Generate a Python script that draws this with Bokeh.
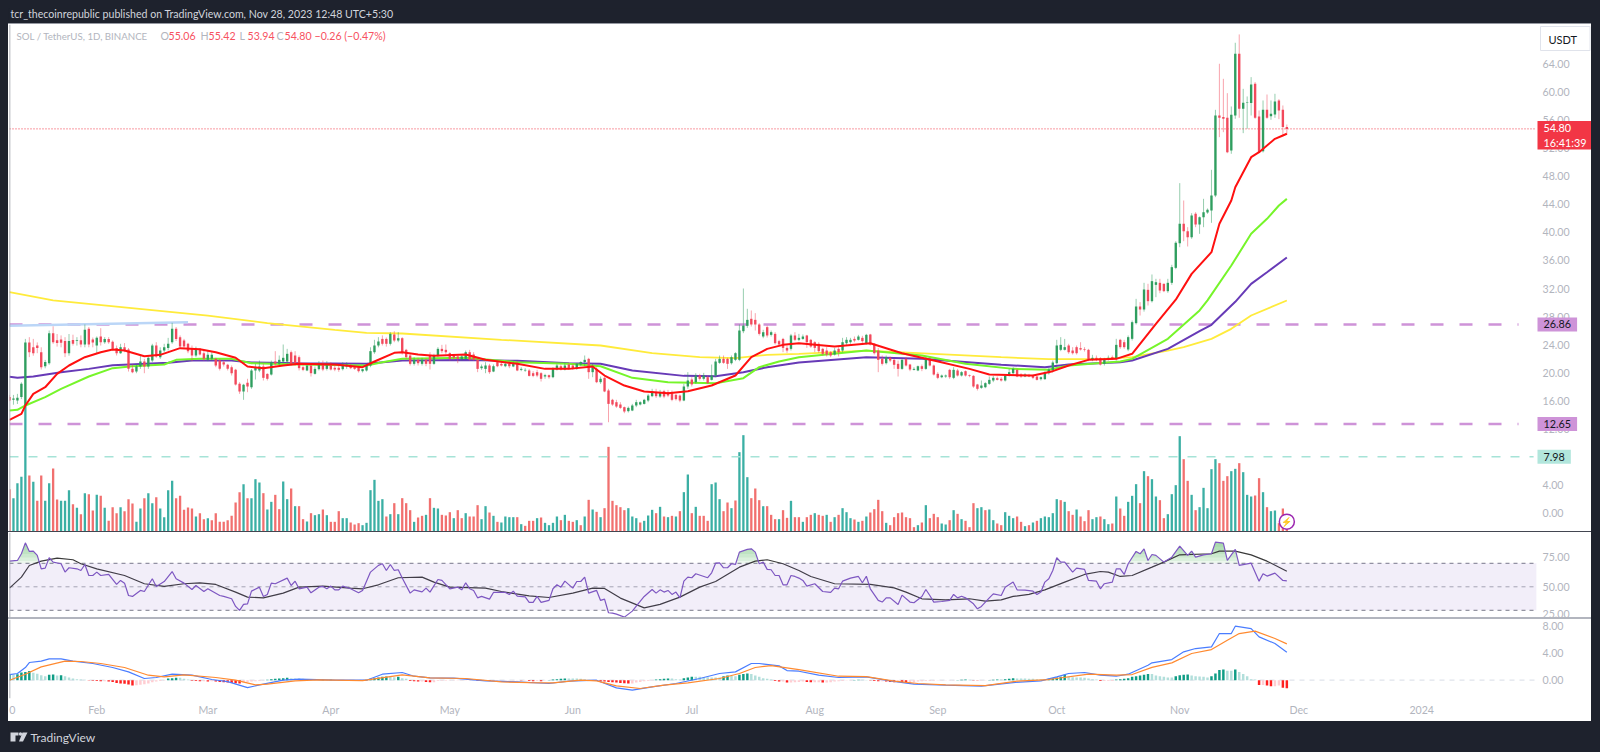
from bokeh.plotting import figure
from bokeh.layouts import column
from bokeh.models import (Range1d, LinearAxis, FixedTicker, NumeralTickFormatter, Span, Label,
                          BoxAnnotation, Div)
from bokeh.embed import file_html
from bokeh.resources import INLINE
import numpy as np

# ---------------------------------------------------------------- price candles (SOL/USDT, daily)
open_ = [
16.5,16.1,16.0,16.5,15.3,24.3,23.6,23.85,22.9,20.9,
21.33,25.6,24.6,24.7,24.5,22.76,24.66,24.5,24.6,24.0,
26.24,24.7,23.85,25.15,24.33,24.8,24.4,23.5,22.76,23.6,
23.3,20.52,20.14,20.86,21.57,20.86,21.71,23.86,22.19,23.14,
23.5,24.33,26.24,25.05,24.57,24.1,23.38,22.43,23.38,22.76,
21.81,21.95,21.95,21.7,21.48,21.1,20.76,20.38,18.38,17.29,
18.52,17.9,20.29,20.29,20.86,19.8,19.71,21.57,21.24,21.57,
21.57,22.9,22.43,22.19,20.76,20.29,21.0,19.81,20.48,21.1,
20.52,21.0,20.67,20.67,20.48,20.86,21.0,20.76,20.76,20.19,
20.29,21.0,22.9,23.86,24.8,24.8,24.1,25.43,24.57,
24.9,23.24,22.43,21.24,21.81,21.24,21.81,22.43,21.24,22.43,
23.38,23.24,22.76,22.43,22.29,21.9,21.95,22.9,22.57,21.81,
20.62,20.52,21.0,20.14,21.48,21.24,20.9,21.24,20.86,21.33,
20.38,20.29,20.29,19.9,20.05,19.9,19.43,19.62,19.33,20.43,
20.9,20.43,21.14,21.0,20.52,21.14,21.5,21.95,20.05,20.52,
18.62,19.24,17.43,16.1,15.76,15.43,15.05,14.48,14.57,15.29,
15.43,15.52,16.0,16.62,17.19,16.57,17.33,17.19,17.05,16.81,
16.71,16.0,18.0,19.0,18.62,19.57,19.1,19.33,18.95,19.57,
21.38,21.95,21.95,21.33,21.81,21.81,25.9,26.67,27.67,27.52,
26.86,25.14,26.48,25.38,25.52,24.48,24.8,23.52,23.38,25.29,
24.67,
24.8,25.29,24.67,24.33,24.1,23.38,23.14,22.9,22.57,23.38,
23.14,24.19,24.33,24.8,24.67,24.95,24.19,25.43,24.1,23.14,
21.95,21.33,22.1,21.81,21.24,20.52,21.95,21.14,20.38,20.29,
20.9,20.52,21.95,21.0,19.81,19.33,19.43,20.38,19.24,20.29,
19.57,20.19,19.62,19.52,18.29,17.81,17.9,18.38,18.86,19.19,
19.1,18.86,19.57,19.9,20.38,19.71,19.43,19.62,19.57,19.43,
19.05,19.05,19.9,20.29,21.33,23.24,23.24,23.86,23.14,23.62,
23.48,23.33,23.24,21.81,22.1,22.05,21.24,21.81,22.19,21.95,
24.67,24.33,23.29,24.81,27.05,29.43,29.0,31.81,30.19,32.52,
32.81,32.67,31.62,32.81,34.95,38.48,41.24,40.19,39.33,42.67,
41.14,42.19,42.86,43.14,45.29,56.71,56.48,56.38,51.71,56.71,
65.52,57.67,58.48,58.48,61.24,56.57,51.62,57.52,56.62,56.86,
58.86,57.52,55.06]
high_ = [
16.8,16.8,16.95,18.6,24.8,25.05,24.8,24.3,23.6,21.8,
26.0,26.6,25.5,25.3,25.05,25.5,25.4,25.05,25.3,26.86,
26.5,25.0,25.15,26.33,25.05,25.05,24.57,23.85,24.1,24.2,
23.5,21.14,21.24,22.43,21.95,22.43,24.1,24.33,23.6,24.1,
24.95,27.1,26.5,25.3,24.8,24.24,23.86,23.7,23.48,23.14,
23.14,22.9,22.1,21.95,21.71,21.24,21.0,20.52,18.62,18.38,
19.1,20.52,21.24,21.71,21.24,19.9,21.71,23.05,22.43,24.0,
23.38,23.14,23.05,22.43,21.0,21.33,21.24,20.86,21.62,21.71,
21.62,21.48,21.0,21.24,21.48,21.48,21.24,21.0,20.9,20.52,
21.24,23.6,24.67,25.05,25.3,25.0,25.76,25.9,25.76,
25.05,23.38,22.67,22.19,22.1,22.1,22.0,22.9,22.67,23.62,
23.95,24.0,22.9,22.67,22.43,22.57,23.14,23.24,22.9,21.95,
21.14,21.48,21.24,21.14,21.71,21.57,21.57,21.62,21.57,21.62,
20.76,20.62,20.52,20.19,20.38,20.05,19.81,19.71,20.76,21.24,
21.14,21.33,21.43,21.24,21.33,21.6,22.43,22.1,21.24,20.76,
19.43,19.33,17.67,16.24,16.1,15.76,15.14,15.14,15.52,16.1,
15.9,16.24,16.95,17.67,17.67,17.52,17.52,17.52,17.43,16.95,
16.86,18.38,20.05,19.33,19.9,19.81,19.95,19.57,21.14,21.95,
22.43,22.43,22.1,22.43,22.9,26.86,32.0,29.1,28.86,28.48,
27.05,26.1,26.7,26.0,25.76,24.67,24.95,23.86,25.52,25.76,
25.52,
25.43,25.38,24.8,24.48,24.33,23.52,23.62,23.05,23.52,23.62,
24.95,25.05,24.95,25.14,25.38,25.24,25.52,25.52,24.19,23.52,
22.43,22.43,22.29,21.95,21.71,21.95,22.19,21.24,20.76,21.0,
21.14,22.19,22.1,21.14,20.05,19.71,19.71,20.52,20.76,20.52,
20.19,20.29,19.71,19.62,18.38,18.86,18.62,19.43,19.52,19.43,
19.33,19.71,20.52,20.76,20.52,19.9,19.9,19.81,19.71,19.57,
19.43,20.19,20.67,21.71,24.67,25.05,24.8,24.1,23.62,23.86,
24.33,23.62,23.38,22.52,22.43,22.19,22.1,22.43,22.43,24.81,
24.81,24.67,25.29,27.43,30.52,30.05,32.81,32.67,34.0,33.38,
33.38,32.7,33.38,35.38,38.76,47.05,44.57,40.76,42.76,42.9,
42.29,44.81,43.43,48.95,57.52,64.1,61.95,59.9,58.0,67.1,
68.29,60.52,59.43,62.19,61.48,57.43,58.86,59.71,58.86,59.81,
59.05,58.14,55.42]
low_ = [
15.9,15.4,15.5,16.2,15.2,22.2,22.4,22.76,20.43,20.6,
21.1,24.1,23.7,23.6,22.2,22.4,23.85,23.85,23.6,23.6,
23.6,23.6,22.67,23.85,24.1,24.1,23.15,22.43,22.67,22.9,
20.14,19.9,19.9,20.52,19.9,20.52,21.48,22.1,21.95,22.9,
23.15,24.1,24.5,23.5,23.5,22.76,21.62,22.2,22.43,21.71,
21.62,21.71,20.76,20.29,20.86,20.29,19.57,18.14,16.95,16.1,
17.19,17.67,19.0,20.05,18.86,18.86,19.57,21.0,21.0,21.33,
21.24,21.0,21.0,20.29,20.19,20.19,19.43,19.71,20.29,20.19,
20.29,20.29,20.19,20.1,20.29,20.52,20.48,20.38,20.0,20.0,
20.14,20.76,22.67,23.6,23.86,23.7,23.86,24.33,24.33,
22.57,21.95,21.0,21.0,21.0,21.0,20.9,20.43,21.1,22.19,
22.76,22.57,21.71,21.81,21.33,21.71,21.81,21.71,21.71,20.05,
20.38,19.9,19.81,20.05,20.76,20.86,20.76,20.62,20.76,20.19,
20.19,20.1,19.43,19.33,19.33,18.71,19.1,19.1,19.19,20.29,
20.29,20.29,20.38,20.38,20.38,20.9,20.9,19.1,19.33,18.48,
18.38,17.19,12.9,15.24,14.95,14.81,14.19,14.29,14.48,15.05,
15.29,15.43,15.76,16.48,16.38,16.38,16.33,16.48,15.9,16.0,
15.76,15.9,17.67,18.0,18.38,18.86,18.86,18.38,18.86,19.33,
21.24,21.24,20.52,21.14,21.62,21.62,25.62,26.38,26.57,26.0,
25.29,24.9,25.0,25.14,24.0,23.86,22.9,22.81,23.14,24.48,
24.48,
24.67,23.52,23.52,22.9,22.81,22.43,22.29,22.19,22.43,22.29,
22.9,23.95,24.1,24.33,24.57,24.24,24.0,23.86,22.57,20.05,
21.0,21.14,21.48,20.52,19.43,20.38,20.86,20.19,20.29,20.19,
20.19,20.38,20.86,19.57,19.05,19.19,19.24,19.1,19.05,19.43,
19.43,19.43,19.33,17.81,17.43,17.67,17.76,18.24,18.62,18.86,
18.71,18.71,19.43,19.57,19.33,19.24,19.33,19.33,19.05,18.86,
18.86,18.95,19.71,20.05,21.14,23.05,23.14,22.67,22.57,22.57,
23.14,23.0,21.62,21.62,21.62,21.0,21.0,21.71,21.81,21.71,
23.38,23.38,23.05,24.57,26.86,28.14,28.7,29.57,30.0,30.76,
31.33,31.48,31.38,32.52,34.76,37.9,38.76,38.0,39.1,40.76,
39.81,40.76,42.67,41.38,45.05,53.62,54.33,51.33,51.24,56.24,
56.38,54.19,54.81,56.71,56.24,51.33,51.43,56.24,56.1,56.38,
56.19,53.86,53.94]
close_ = [
16.0,16.3,16.4,18.4,24.3,22.9,22.76,23.5,20.76,21.5,
25.62,24.33,24.2,24.25,22.76,24.5,24.1,24.6,24.0,26.1,
24.0,24.3,24.95,24.33,24.8,24.33,23.4,22.76,23.6,23.14,
20.52,20.05,20.86,21.57,20.86,22.1,23.86,22.29,23.14,23.6,
24.1,26.24,24.8,23.7,23.7,23.05,22.43,23.38,22.57,21.95,
22.52,22.52,21.0,20.52,21.14,20.52,19.9,18.29,17.29,18.24,
18.0,20.29,20.76,20.86,19.24,19.1,21.48,21.24,21.81,22.1,
22.67,21.24,21.24,20.62,20.38,21.0,19.9,20.52,21.14,20.43,
21.14,20.43,20.43,20.38,21.14,21.14,20.62,20.52,20.19,20.48,
21.0,23.05,23.86,24.43,24.1,24.1,25.52,24.57,24.9,
22.9,22.19,21.24,21.81,21.33,21.81,21.24,21.24,22.43,23.38,
23.05,22.9,21.95,22.1,21.95,22.29,22.9,21.81,21.81,20.52,
20.86,21.0,20.05,20.9,20.9,21.0,21.24,20.9,21.24,20.29,
20.52,20.38,19.52,19.52,19.57,19.1,19.62,19.33,20.52,21.0,
20.43,21.0,20.52,20.52,21.24,21.5,21.81,20.05,20.76,18.62,
19.1,17.29,15.52,15.43,15.14,14.95,14.43,14.95,15.29,15.76,
15.76,16.1,16.71,17.29,16.62,17.19,16.57,16.71,16.1,16.19,
16.0,18.0,18.86,18.3,19.57,19.1,19.57,18.48,19.57,21.57,
21.95,21.38,21.24,22.19,22.76,26.0,26.7,27.52,26.86,26.86,
25.52,25.76,25.29,25.76,24.19,24.0,23.52,23.14,25.29,24.67,
24.95,
25.14,24.33,23.71,23.52,23.05,22.67,22.57,22.43,23.14,22.9,
24.33,24.67,24.67,24.57,25.14,24.48,25.38,24.0,22.76,21.81,
21.24,22.19,21.71,21.1,20.52,21.81,21.0,20.43,20.52,20.9,
20.52,22.1,21.0,19.71,19.24,19.57,19.57,19.33,20.38,19.57,
20.05,19.57,19.52,18.0,17.67,18.14,18.48,18.95,19.24,18.95,
18.86,19.57,20.05,20.52,19.43,19.43,19.71,19.43,19.24,18.95,
19.33,20.0,20.43,21.43,23.86,23.95,23.62,22.9,22.76,22.76,
23.29,23.24,21.81,22.1,21.81,21.14,21.81,22.1,21.9,23.95,
23.62,23.62,25.05,27.19,29.43,29.0,31.86,30.19,33.05,32.9,
31.71,31.62,32.81,35.05,38.52,41.24,40.19,39.33,42.43,41.14,
42.19,42.9,43.24,45.29,56.71,56.38,56.24,51.48,56.81,65.52,
57.67,58.52,58.57,61.14,56.38,51.48,57.52,56.38,56.95,58.71,
57.43,55.06,54.80]

# ---------------------------------------------------------------- volume (arbitrary overlay units)
volume = [
127,100,145,164,382,168,149,92,168,92,145,189,96,92,92,124,82,71,52,115,
112,63,110,107,71,32,73,55,73,61,97,84,29,69,100,115,85,103,69,43,
124,152,100,107,65,72,69,45,55,37,40,34,55,29,29,34,47,87,118,142,
100,100,157,147,115,66,89,110,67,150,97,129,76,76,37,30,55,49,52,66,
49,29,29,61,40,40,27,21,25,19,26,124,155,92,97,45,52,85,52,
100,85,64,29,42,47,50,100,71,69,50,48,58,40,64,40,55,45,45,79,
37,76,57,47,29,27,45,43,43,43,22,17,32,32,40,42,26,19,26,45,
34,50,32,29,34,19,45,95,66,59,43,70,254,92,79,73,64,70,45,40,
27,32,48,65,55,74,45,43,47,45,61,118,171,55,74,47,47,32,142,147,
97,61,87,70,93,238,289,163,100,129,94,76,76,50,37,37,64,41,92,43,43,
29,43,50,55,50,47,50,29,43,50,70,58,40,36,29,32,45,57,67,95,
61,26,19,43,55,57,43,40,13,19,27,79,40,53,43,24,21,34,64,53,
37,32,13,85,70,73,64,66,34,24,19,58,47,40,45,29,16,19,27,32,
40,45,43,55,97,94,89,61,50,66,45,31,64,37,43,45,37,22,24,105,
69,47,89,107,142,85,181,166,157,105,94,40,52,112,139,286,217,152,110,64,
73,131,70,187,217,205,152,166,181,188,205,178,110,105,108,160,118,73,61,63,
25,69,15]
volume_dir = "".join([
    "RTTTTRTRRT", "TRRTTTRTRT", "RRTRTRRRTR", "RRTTRTTRTT", "TTRRRRRTRR",
    "TRRRRRRRRT", "RTTTRTTRRT", "TRTRRTRTTR", "TRRRTTRRRT", "TTTTTRTRT",
    "RRRTRRTRTT", "RRRTRRTRRR", "TTRTRTTTTR", "TRRRTRTTTT", "RTRRTRTRTR",
    "TRRRRRRTTT", "RTTTRTRTRT", "RTTRTRRRTT", "TRRTRTTTRR", "RTRRRTRRTR", "R",
    "TRRTRRTRTR", "TTTRTRTRRR", "RTRRRRRRRT", "RTRRRTTRTR", "TRRRTTRTTR",
    "RTTTRRTRTR", "TTTTTRTRRT", "RRRTTRTTRT", "RRTTTRTRTT", "RRTTTTRRTR",
    "TTTTTRRRTT", "RTTTRRTRTT", "RRR"])

# ---------------------------------------------------------------- moving averages (vertices)
ma20_i = [0,3,4,6,9,12,15,19,23,26,29,34,38,43,48,52,57,60,64,69,73,82,89,92,97,99,103,107,115,120,128,135,141,147,150,155,160,166,171,177,183,187,191,195,199,208,217,225,233,242,247,258,263,267,272,279,283,289,294,298,303,305,308,309,313,315,319,321,322]
ma20_v = [13.24,14.1,15.29,16.95,17.9,19.8,21.0,22.19,22.9,23.29,23.14,22.33,22.52,23.48,23.33,22.9,22.1,20.86,20.62,21.0,21.24,21.14,20.76,21.57,22.81,22.9,22.57,22.38,22.57,21.81,21.24,20.52,20.52,20.86,19.57,18.14,17.29,17.05,17.33,18.14,19.57,22.19,23.38,23.95,24.19,23.71,24.19,22.76,21.71,20.52,19.71,19.57,20.19,21.0,21.81,21.95,22.67,26.95,30.4,34.09,37.19,41.24,44.57,46.47,50.76,51.47,53.38,53.86,54.1]
ma50_i = [0,2,4,9,13,20,26,31,39,42,48,56,61,73,90,94,99,115,128,141,149,157,166,178,185,189,194,199,216,230,241,253,262,267,280,283,292,300,302,308,313,317,320,322]
ma50_v = [14.57,14.67,15.29,16.48,17.67,19.43,20.62,20.9,21.14,21.81,21.95,21.95,21.33,21.14,21.0,21.48,21.95,22.1,21.48,21.24,20.9,19.24,18.62,18.48,19.19,20.76,21.57,22.19,23.14,22.43,21.24,20.52,20.38,21.0,21.57,21.95,24.81,28.86,30.3,35.28,39.81,41.95,43.85,44.8]
ma100_i = [0,2,6,13,20,26,40,46,56,61,73,90,99,115,128,141,149,157,170,178,185,191,199,216,230,250,261,267,280,283,292,300,303,309,313,317,322]
ma100_v = [19.38,19.24,19.43,20.05,20.52,21.05,21.38,21.71,21.71,21.43,21.33,21.24,21.71,21.8,21.67,21.33,21.24,20.29,19.52,19.48,20.05,20.76,21.43,22.19,21.95,21.1,20.76,21.14,21.48,21.71,23.38,25.9,26.81,30.1,32.66,34.33,36.43]
ma200_i = [0,11,50,65,82,90,99,124,149,162,174,183,191,199,216,233,250,262,275,283,292,296,303,308,313,322]
ma200_v = [31.47,30.29,28.14,27.05,26.1,25.67,25.57,24.67,23.86,22.76,22.19,22.05,22.52,22.67,23.14,22.67,22.19,21.9,21.9,22.19,23.14,23.62,24.81,26.24,28.14,30.29]

trend_i = [0, 45]
trend_v = [26.67, 27.19]
level_upper = 26.86
level_lower = 12.65
level_volume = 7.98
price_ticks = list(range(0, 65, 4))

# ---------------------------------------------------------------- RSI
rsi_i = [0,2,3,4,5,6,7,8,9,10,11,13,14,15,17,18,19,20,21,22,23,25,27,28,29,30,31,33,34,36,37,39,41,42,44,46,47,49,50,53,54,56,57,58,59,60,61,63,64,65,66,67,70,71,72,73,75,76,78,79,80,81,82,83,84,86,88,89,91,93,94,95,96,97,98,
99,101,102,104,105,106,108,109,111,113,114,115,116,117,118,119,121,122,125,126,127,128,130,131,132,133,134,136,137,138,139,140,142,143,144,145,146,148,149,150,151,152,153,155,157,158,160,162,163,164,165,166,167,168,169,170,171,172,173,176,177,178,179,180,181,182,183,184,186,187,188,189,190,191,192,193,194,195,196,197,198,199,
200,201,203,205,207,208,209,210,212,214,215,216,217,219,220,221,222,224,225,227,228,230,231,232,233,235,237,238,239,240,241,243,244,245,247,248,250,251,253,254,256,258,259,260,261,262,263,264,265,266,267,268,269,271,272,274,275,276,278,279,280,281,282,284,285,286,287,288,289,291,
293,295,297,298,299,301,303,304,306,307,309,310,313,315,316,317,319,321,322]
rsi_v = [71.8,72.4,78.1,87.4,80.1,80.4,76.7,65.3,65.9,74.7,71.0,69.6,62.5,66.2,65.3,63.9,69.0,59.6,59.6,62.5,59.6,60.5,52.0,55.4,53.1,42.6,41.8,46.9,46.0,56.8,50.3,54.5,63.0,56.8,53.1,47.7,51.1,46.0,48.3,42.6,41.8,39.8,33.3,29.9,35.0,35.5,46.3,49.7,41.8,43.5,53.1,52.6,57.4,51.1,54.8,48.3,49.7,44.9,49.7,50.3,48.3,50.6,47.4,47.4,50.6,48.3,44.9,46.9,62.5,68.2,69.6,63.9,69.0,63.9,64.5,
57.5,44.6,47.4,45.7,48.9,45.5,56.2,55.4,48.3,49.7,47.4,53.4,48.3,46.9,40.6,41.8,39.5,45.2,45.2,43.5,46.3,42.0,41.5,36.7,36.7,41.8,36.7,38.4,48.3,51.7,49.7,54.8,48.9,54.5,54.5,58.2,44.6,46.9,38.4,39.5,27.9,27.6,26.7,24.2,29.3,33.5,41.8,47.7,44.6,47.4,45.5,46.9,43.5,45.5,40.6,54.8,58.2,57.7,61.1,57.7,61.9,70.1,70.4,66.2,66.2,69.6,69.0,79.5,81.8,82.3,79.5,69.6,71.0,64.8,64.5,59.6,59.6,51.7,51.7,59.6,58.8,57.4,
55.4,50.6,52.6,46.0,45.2,48.9,48.3,54.8,57.4,58.8,53.4,59.0,48.3,38.4,37.0,40.6,40.6,35.0,42.9,37.0,36.4,41.8,47.7,42.6,37.0,37.5,38.4,43.5,40.6,42.0,40.6,35.5,31.3,33.3,40.6,44.0,42.6,49.7,54.0,47.4,47.2,46.3,43.5,45.5,54.0,56.8,63.9,74.7,71.0,71.0,66.7,62.5,65.9,64.8,55.4,54.8,48.3,52.6,54.0,65.3,65.3,60.5,69.6,80.1,78.1,82.3,72.4,77.5,76.7,71.0,
75.2,84.6,76.7,80.4,75.2,77.2,78.1,88.0,87.2,72.4,81.8,68.2,70.1,54.8,61.1,59.1,61.6,55.4,55.1]
rsi_ma_i = [0,3,5,8,12,16,18,22,29,34,39,44,48,52,57,60,64,69,73,79,86,89,93,98,104,107,111,120,124,131,136,142,147,150,154,160,164,169,174,178,184,188,191,195,199,202,208,217,223,226,230,236,242,246,250,253,257,261,266,271,275,277,280,283,288,291,295,303,305,309,313,317,322]
rsi_ma_v = [48.9,58.2,68.1,71.8,74.4,73.0,69.6,65.3,59.6,52.6,50.3,52.6,53.4,52.0,45.5,41.2,40.6,44.6,49.7,50.6,48.9,48.3,51.7,57.7,58.2,54.0,49.7,48.9,46.0,42.3,40.9,44.6,48.9,48.6,40.4,32.1,35.0,41.2,49.7,54.5,66.7,71.8,73.0,69.6,63.9,58.8,52.6,52.0,49.1,45.5,39.8,38.9,39.8,37.8,38.9,41.8,43.5,47.4,54.0,60.5,63.0,62.5,58.8,59.6,66.7,71.0,77.2,78.1,80.4,80.4,77.2,71.8,63.3]
rsi_ticks = [25, 50, 75]

# ---------------------------------------------------------------- MACD
macd_i = [0,2,4,5,8,10,13,16,21,26,30,34,37,41,46,51,55,60,64,69,73,82,90,94,99,102,106,112,120,128,136,141,148,153,157,162,168,174,179,183,187,189,194,196,199,204,209,216,222,228,236,245,253,260,264,267,271,275,279,282,287,288,293,296,299,303,305,308,309,313,315,319,322]
macd_v = [0.84,0.99,1.88,2.62,2.82,3.16,3.16,2.82,2.47,1.88,1.23,0.25,0.4,0.89,0.74,0.1,-0.2,-1.09,-0.59,0.0,0.15,0.0,0.0,0.89,1.14,0.59,0.35,0.3,-0.1,-0.25,-0.49,-0.15,0.0,-1.14,-1.48,-0.99,-0.49,0.25,0.99,1.23,2.47,2.47,2.12,1.43,1.33,0.74,0.4,0.49,-0.1,-0.59,-0.74,-0.89,-0.35,-0.1,0.49,0.99,1.14,0.74,0.59,0.89,2.22,2.57,3.06,4.2,4.69,4.94,6.91,6.91,8.0,7.65,6.42,5.43,4.15]
signal_i = [0,4,8,14,18,23,29,35,39,44,52,57,62,65,72,78,89,99,106,115,124,131,137,144,148,153,159,165,171,179,184,188,192,199,209,216,223,229,236,246,254,262,272,279,283,288,293,298,303,307,310,314,319,322]
signal_v = [0.0,0.89,1.98,2.82,2.77,2.47,1.88,0.74,0.49,0.79,0.4,0.0,-0.69,-0.59,-0.1,0.05,-0.05,0.79,0.35,0.25,-0.25,-0.35,-0.4,0.0,-0.1,-0.84,-1.23,-0.74,-0.4,0.25,0.99,1.88,2.17,1.58,0.59,0.54,-0.15,-0.49,-0.69,-0.79,-0.15,0.1,0.89,0.74,0.84,1.9,2.57,3.95,4.54,5.93,6.91,7.26,6.17,5.38]
histogram = [
.89,.84,.89,1.14,1.2,1.38,1.09,.94,.74,.59,
.79,.84,.69,.74,.6,.4,.25,.15,.1,.05,
-.05,-.08,-.12,-.14,-.14,-.18,-.25,-.4,-.49,-.54,
-.64,-.79,-.74,-.69,-.59,-.49,-.3,-.2,-.1,-.05,
.25,.3,.35,.35,.2,.1,-.08,-.12,-.16,-.14,
-.18,-.16,-.2,-.25,-.3,-.35,-.4,-.45,-.5,-.35,
-.25,-.2,-.15,-.1,-.05,.05,.15,.2,.25,.3,
.35,.3,.25,.25,.2,.1,.05,.05,.03,.08,
.03,.05,.03,-.03,-.03,-.05,-.05,-.05,-.08,-.05,
.08,.2,.3,.4,.5,.55,.5,.45,.5,.3,
.2,-.1,-.15,-.2,-.2,-.25,-.3,-.3,-.1,-.08,
-.08,-.06,-.05,-.05,-.05,-.05,-.05,-.05,-.1,-.12,
-.1,-.12,-.1,-.08,-.06,-.05,-.03,-.03,-.03,-.05,
-.05,-.1,-.15,-.1,-.15,-.05,.03,.1,.15,.2,
.25,.25,.25,.25,.2,.15,.05,-.05,-.1,-.15,
-.2,-.25,-.3,-.35,-.4,-.45,-.5,-.5,-.35,-.25,
-.15,-.1,-.05,.1,.15,.2,.25,.25,.15,.1,
.3,.4,.5,.5,.5,.45,.45,.4,.4,.4,
.6,.7,.65,.6,.8,.9,1.0,.9,.7,.5,
.3,.2,.1,-.1,-.2,-.2,-.35,-.35,-.3,-.25,
-.2,-.25,-.3,-.3,-.3,-.35,-.35,-.3,-.2,-.15,
-.1,-.05,-.03,.03,.05,.05,.03,-.03,-.1,-.15,
-.15,-.2,-.25,-.3,-.3,-.35,-.4,-.4,-.3,-.2,
-.15,-.12,-.1,-.08,-.06,-.05,-.05,-.05,-.03,.03,
.05,.1,.05,-.03,-.05,-.05,-.03,.03,.05,.1,
.1,.15,.2,.3,.25,.25,.25,.2,.2,.15,
.15,.15,.2,.3,.4,.5,.8,.5,.45,.4,
.4,.35,.25,.15,.1,-.1,-.1,-.1,-.1,.1,
.15,.2,.3,.5,.6,.7,.8,.9,.9,.7,
.6,.5,.4,.4,.6,.75,.8,.85,.7,.6,
.55,.5,.4,.6,1.0,1.5,1.6,1.4,1.4,1.6,
1.2,.9,.6,.15,.1,-.7,-.7,-.8,-.9,-.9,
-.8,-1.1,-1.2]
macd_ticks = [0, 4, 8]

# ---------------------------------------------------------------- time axis and texts
month_index = [0.7, 22, 50, 81, 111, 142, 172, 203, 234, 264, 295, 325, 356]
month_label = ["0", "Feb", "Mar", "Apr", "May", "Jun", "Jul", "Aug", "Sep", "Oct", "Nov", "Dec", "2024"]
header_text = "tcr_thecoinrepublic published on TradingView.com, Nov 28, 2023 12:48 UTC+5:30"
symbol_text = "SOL / TetherUS, 1D, BINANCE"
ohlc_text = [("O", "55.06"), ("H", "55.42"), ("L", "53.94"), ("C", "54.80")]
change_text = "\u22120.26 (\u22120.47%)"

DARK = "#1e222d"
GREY = "#b2b5be"
FONT = "Lato"
FS = "10.6px"
W = 1583
XMAX = 398.8     # right edge of the frame, which reaches under the price scale
XPANE = 384.9    # where the price scale starts
x_shared = Range1d(0, XMAX)
n = len(close_)
idx = np.arange(n)


def base(height, y0, y1, bottom=0):
    f = figure(width=W, height=height, x_range=x_shared, y_range=Range1d(y0, y1), toolbar_location=None,
               output_backend="svg", min_border_left=1, min_border_right=0, min_border_top=0,
               min_border_bottom=bottom, border_fill_color="white", background_fill_color="white",
               outline_line_color=None, x_axis_location=None, y_axis_location=None,
               styles={"background-color": "white"})
    f.grid.visible = False
    f.add_layout(Span(location=0, dimension="height", line_color="#9598a1", line_width=1.5))
    return f


def right_axis(f, ticks):
    ax = LinearAxis(ticker=FixedTicker(ticks=ticks), formatter=NumeralTickFormatter(format="0.00"),
                    major_tick_line_color=None, minor_tick_line_color=None, axis_line_color=None,
                    major_tick_in=0, major_tick_out=0, minor_tick_in=0, minor_tick_out=0,
                    major_label_text_color=GREY, major_label_text_font=FONT,
                    major_label_text_font_size=FS, major_label_standoff=-49)
    f.add_layout(ax, "right")
    return ax


def text_at(f, x, y, text, color=GREY, size=FS):
    f.add_layout(Label(x=x, y=y, x_units="screen", y_units="data", text=text, text_font=FONT, text_font_size=size,
                       text_color=color, text_baseline="middle", level="overlay"))


def tag(f, text, y, fill, color="#131722", padding=(6, 3)):
    f.add_layout(Label(x=1528, y=y, x_units="screen", y_units="data", text=text, text_font=FONT,
                       text_font_size="10.8px", text_color=color, text_baseline="middle", text_align="left",
                       background_fill_color=fill, padding=padding, level="overlay"))


def hline(f, y, xend, **kw):
    f.line([0, xend], [y, y], **kw)


# ---------------------------------------------------------------- main panel
main = base(507, -2.71, 69.71)
right_axis(main, price_ticks)
main.extra_y_ranges = {"vol": Range1d(0, 1521)}

vol_color = ["#26a69a" if d == "T" else "#f0605f" for d in volume_dir]
main.vbar(x=idx, top=volume, bottom=0, width=0.58, y_range_name="vol", fill_color=vol_color, line_color=None, fill_alpha=0.9)

hline(main, close_[-1], XPANE, line_color="#f23645", line_width=1, line_dash="1 2")
hline(main, level_upper, 380.4, line_color="#ce93d8", line_width=2.4, line_dash="13 16")
hline(main, level_lower, 380.4, line_color="#ce93d8", line_width=2.4, line_dash="13 16")
hline(main, level_volume, 384.2, line_color="#a6e3d7", line_width=1.5, line_dash="9 10")

main.line(trend_i, trend_v, line_color="#bbd6f7", line_width=2.5)
main.line(ma200_i, ma200_v, line_color="#ffeb3b", line_width=1.8)
main.line(ma100_i, ma100_v, line_color="#673ab7", line_width=2)
main.line(ma50_i, ma50_v, line_color="#76f52a", line_width=2)

up = [c >= o for o, c in zip(open_, close_)]
body_color = ["#2f9e5f" if u else "#f2495c" for u in up]
main.segment(x0=idx, x1=idx, y0=low_, y1=high_, line_color=body_color, line_width=1, line_alpha=0.5)
main.vbar(x=idx, top=[max(o, c) for o, c in zip(open_, close_)], bottom=[min(o, c) for o, c in zip(open_, close_)],
          width=0.6, fill_color=body_color, line_color=None)
main.line(ma20_i, ma20_v, line_color="#ff1010", line_width=2)

main.scatter([322], [-1.3], size=15, marker="circle", fill_color="white", line_color="#9c27b0", line_width=1.5)
main.text([322], [-1.3], text=["\u26a1"], text_font_size="9px", text_color="#9c27b0", text_align="center",
          text_baseline="middle")

legend_y = 68.0
text_at(main, 7, legend_y, symbol_text, size="9.7px")
ox = [151, 191, 230, 267]
for (name, val), lx in zip(ohlc_text, ox):
    text_at(main, lx, legend_y, name)
    text_at(main, lx + 8, legend_y, val, "#f7525f")
text_at(main, 305, legend_y, change_text, "#f7525f")

main.add_layout(Label(x=1531, y=67.71, x_units="screen", y_units="data", text="USDT", text_font=FONT,
                      text_font_size="11px", text_color="#131722", text_baseline="middle",
                      border_line_color="#e0e3eb", border_line_width=1,
                      background_fill_color="white", padding=(8, 13, 6, 5), text_align="left", level="overlay"))

tag(main, f"{level_upper:.2f}", level_upper, "#ce93d8")
tag(main, f"{level_lower:.2f}", level_lower, "#ce93d8")
tag(main, f"{level_volume:.2f}", level_volume, "#b2e6dc")
tag(main, f"{close_[-1]:.2f}\n16:41:39", 53.9, "#f23645", color="white", padding=(6, 0))

# ---------------------------------------------------------------- RSI panel
rsi = base(85, 23.87, 96.2)
right_axis(rsi, rsi_ticks)
rsi.add_layout(BoxAnnotation(left=0, right=XPANE, bottom=30, top=70, fill_color="#7e57c2", fill_alpha=0.1, line_color=None))
hline(rsi, 70, XPANE, line_color="#787b86", line_width=1, line_dash="4 4")
hline(rsi, 50, XPANE, line_color="#9598a1", line_width=1, line_dash="4 4", line_alpha=0.8)
hline(rsi, 30, XPANE, line_color="#787b86", line_width=1, line_dash="4 4")
grid_i = np.arange(0, 322.01, 0.25)
rsi_dense = np.interp(grid_i, rsi_i, rsi_v)
for lvl in (70, 72, 75, 78, 81, 84):
    rsi.varea(grid_i, y1=np.full_like(grid_i, lvl), y2=np.maximum(rsi_dense, lvl), fill_color="#66bb6a", fill_alpha=0.12)
rsi.line(rsi_ma_i, rsi_ma_v, line_color="#3a3a3a", line_width=1.2)
rsi.line(rsi_i, rsi_v, line_color="#7e57c2", line_width=1.2)

# ---------------------------------------------------------------- MACD panel
macd = base(102, -2.71, 8.99, bottom=23)
right_axis(macd, macd_ticks)
xax = LinearAxis(ticker=FixedTicker(ticks=month_index),
                 major_label_overrides=dict(zip(month_index, month_label)),
                 major_tick_line_color=None, minor_tick_line_color=None, axis_line_color=None,
                 major_tick_in=0, major_tick_out=0, minor_tick_in=0, minor_tick_out=0,
                 major_label_text_color=GREY, major_label_text_font=FONT, major_label_text_font_size=FS,
                 major_label_standoff=5)
macd.add_layout(xax, "below")
hline(macd, 0, XPANE, line_color="#e0e3eb", line_width=1.2, line_dash="5 5")
hist_color = []
for k, h in enumerate(histogram):
    prev = histogram[k - 1] if k else 0
    if h >= 0:
        hist_color.append("#0f9d85" if h > prev else "#b2dfdb")
    else:
        hist_color.append("#ff2020" if h < prev else "#ffcdd2")
macd.vbar(x=idx, top=histogram, bottom=0, width=0.62, fill_color=hist_color, line_color=None)
macd.line(macd_i, macd_v, line_color="#4a7dff", line_width=1.2)
macd.line(signal_i, signal_v, line_color="#ff8a30", line_width=1.2)


# ---------------------------------------------------------------- header / footer bands
def band(height):
    f = figure(width=W, height=height, x_range=Range1d(0, W), y_range=Range1d(0, height), toolbar_location=None,
               output_backend="svg", min_border=0, border_fill_color=DARK, background_fill_color=DARK,
               outline_line_color=None, x_axis_location=None, y_axis_location=None)
    f.grid.visible = False
    return f


head = band(15)
head.add_layout(Label(x=1, y=10, text=header_text, text_font=FONT, text_font_size=FS, text_color="#d1d4dc",
                      text_baseline="middle"))
foot = band(23)
foot.patch([1, 9, 9, 6, 6, 1], [12, 12, 9, 9, 3, 3], fill_color="#d1d4dc", line_color=None)
foot.scatter([11], [10.5], size=3.4, marker="circle", fill_color="#d1d4dc", line_color=None)
foot.patch([13, 18, 13.5, 9.5], [12, 12, 3, 3], fill_color="#d1d4dc", line_color=None)
foot.add_layout(Label(x=21, y=7.5, text="TradingView", text_font=FONT, text_font_size="12px", text_color="#d1d4dc",
                      text_baseline="middle"))


def rule(height, color):
    return Div(text="", width=W, height=height, margin=(0, 0, 0, 0), styles={"background-color": color})


page = column(head, rule(1, "#9598a1"), main, rule(1, "#434651"), rsi, rule(2, "#b2b5be"), macd, foot, spacing=0)
page.margin = (0, 0, 0, 0)

html = file_html(page, INLINE)
html = html.replace("<body>", '<body style="background:%s;margin:8px;height:auto;">' % DARK)
open("out.html", "w").write(html)
